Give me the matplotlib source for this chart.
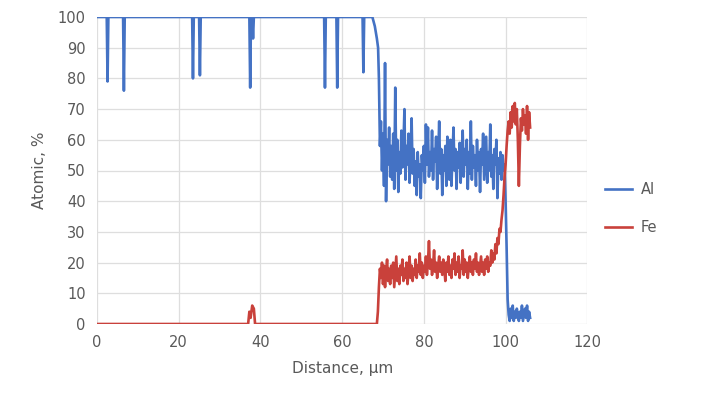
import numpy as np
import matplotlib.pyplot as plt

# Al profile: flat part (with dips)
al_x_flat = [0, 2.4, 2.6, 2.8, 6.4, 6.6, 6.8, 23.3, 23.5, 23.7, 25.0, 25.2, 25.4,
             37.3, 37.5, 37.7, 38.0, 38.2, 38.4, 55.6, 55.8, 56.0, 58.6, 58.8, 59.0,
             65.0, 65.2, 65.4, 67.4, 68.0, 68.5, 68.8]
al_y_flat = [100, 100, 79, 100, 100, 76, 100, 100, 80, 100, 100, 81, 100,
             100, 77, 100, 100, 93, 100, 100, 77, 100, 100, 77, 100,
             100, 82, 100, 100, 97, 93, 90]

# Fe profile: flat part
fe_x_flat = [0, 37.0, 37.3, 37.6, 38.0, 38.4, 38.7, 68.3, 68.5, 68.75]
fe_y_flat = [0, 0, 4, 2, 6, 5, 0, 0, 0, 4]

# scan region, 0.25 um steps from 69.0 to 106.0
scan_start = 69.0
scan_step = 0.25
al_scan = [80, 58, 66, 50, 62, 45, 85, 40, 60, 52, 64, 48, 58, 47, 62, 44,
           77, 50, 60, 43, 56, 49, 63, 51, 58, 70, 47, 58, 52, 62, 46, 55,
           67, 49, 57, 45, 53, 42, 56, 48, 52, 41, 55, 50, 58, 46, 65, 52,
           64, 48, 56, 50, 63, 47, 57, 53, 61, 44, 54, 66, 49, 57, 42, 55,
           50, 58, 45, 61, 52, 47, 60, 45, 55, 64, 50, 57, 44, 56, 51, 59,
           46, 55, 63, 48, 57, 52, 60, 44, 56, 49, 66, 47, 58, 51, 55, 45,
           60, 50, 56, 43, 57, 52, 62, 47, 54, 61, 46, 56, 50, 65, 48, 55,
           44, 57, 52, 60, 41, 54, 49, 56, 47, 55, 50, 52, 40, 25, 8, 3,
           1, 5, 2, 6, 1, 4, 2, 5, 3, 1, 4, 2, 6, 1, 3, 5, 2, 6, 1, 4, 2]
fe_scan = [12, 18, 15, 20, 13, 19, 12, 17, 21, 14, 18, 13, 19, 15, 20, 12,
           17, 22, 14, 18, 13, 19, 16, 21, 14, 18, 15, 20, 13, 17, 22, 15,
           19, 14, 18, 16, 21, 15, 19, 17, 23, 16, 20, 15, 19, 17, 22, 16,
           20, 27, 18, 21, 16, 19, 24, 17, 20, 15, 19, 22, 17, 20, 16, 21,
           18, 14, 20, 17, 22, 16, 19, 15, 21, 18, 23, 16, 20, 17, 22, 15,
           19, 18, 24, 16, 21, 17, 20, 15, 19, 22, 17, 20, 16, 21, 18, 23,
           17, 20, 16, 19, 22, 17, 20, 16, 21, 18, 22, 17, 20, 19, 24, 20,
           23, 21, 26, 23, 28, 26, 31, 30, 34, 37, 42, 48, 52, 58, 63, 66,
           62, 69, 64, 71, 66, 72, 65, 70, 60, 45, 58, 67, 63, 70, 65, 68,
           62, 71, 60, 69, 64]

scan_x = scan_start + scan_step * np.arange(len(al_scan))
al_x = np.concatenate([al_x_flat, scan_x])
al_y = np.concatenate([al_y_flat, al_scan])
fe_x = np.concatenate([fe_x_flat, scan_x])
fe_y = np.concatenate([fe_y_flat, fe_scan])

grey = '#595959'
fig = plt.figure(figsize=(7.18, 4.0), dpi=100)
ax = fig.add_axes([0.135, 0.19, 0.683, 0.7675])

ax.plot(al_x, al_y, color='#4472C4', lw=1.9, label='Al')
ax.plot(fe_x, fe_y, color='#C9413B', lw=1.9, label='Fe')

ax.set_xlim(0, 120)
ax.set_ylim(0, 100)
ax.set_xticks(range(0, 121, 20))
ax.set_yticks(range(0, 101, 10))
ax.grid(True, color='#DEDEDE', lw=0.9)
ax.set_axisbelow(True)
for s in ax.spines.values():
    s.set_visible(False)
ax.tick_params(length=0, labelsize=10.5, colors=grey, pad=8)
ax.set_xlabel('Distance, µm', fontsize=11, color=grey, labelpad=8)
ax.set_ylabel('Atomic, %', fontsize=11, color=grey, labelpad=8)

fig.legend(loc='center left', bbox_to_anchor=(0.825, 0.478), frameon=False,
           fontsize=10.5, labelcolor=grey, handlelength=1.8, handletextpad=0.6,
           labelspacing=1.6)

fig.savefig('out.png', dpi=100)
